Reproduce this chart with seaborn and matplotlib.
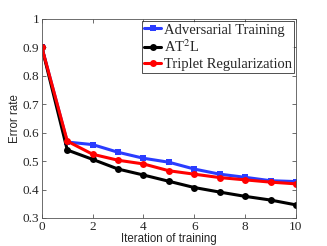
import matplotlib
matplotlib.use("Agg")
import matplotlib.pyplot as plt
import seaborn as sns
import pandas as pd

# values
iterations = [0, 1, 2, 3, 4, 5, 6, 7, 8, 9, 10]
adversarial = [0.90, 0.567, 0.558, 0.531, 0.510, 0.496, 0.472, 0.454, 0.443, 0.431, 0.428]
at2l = [0.90, 0.539, 0.506, 0.472, 0.451, 0.429, 0.407, 0.391, 0.376, 0.363, 0.346]
triplet = [0.90, 0.570, 0.524, 0.503, 0.490, 0.466, 0.454, 0.442, 0.434, 0.426, 0.420]
method_names = ["Adversarial Training", "AT$^2$L", "Triplet Regularization"]

df = pd.concat([
    pd.DataFrame({"iter": iterations, "err": adversarial, "method": method_names[0]}),
    pd.DataFrame({"iter": iterations, "err": at2l, "method": method_names[1]}),
    pd.DataFrame({"iter": iterations, "err": triplet, "method": method_names[2]}),
], ignore_index=True)

sns.set_style("ticks")
plt.rcParams["font.family"] = ["Liberation Serif", "DejaVu Serif"]
plt.rcParams["mathtext.fontset"] = "stix"

fig = plt.figure(figsize=(3.27, 2.46), dpi=100)
ax = fig.add_axes([0.128, 0.114, 0.777, 0.809])

palette = {method_names[0]: "#2a3cff", method_names[1]: "black", method_names[2]: "red"}
markers = {method_names[0]: "s", method_names[1]: "o", method_names[2]: "o"}
sns.lineplot(data=df, x="iter", y="err", hue="method", style="method",
             palette=palette, markers=markers, dashes=False,
             linewidth=2.2, markersize=5, markeredgewidth=0, ax=ax)

ax.set_xlim(0, 10)
ax.set_ylim(0.3, 1.0)
ax.set_xticks([0, 2, 4, 6, 8, 10])
ax.set_yticks([0.3, 0.4, 0.5, 0.6, 0.7, 0.8, 0.9, 1.0])
ax.set_yticklabels(["0.3", "0.4", "0.5", "0.6", "0.7", "0.8", "0.9", "1"])
ax.tick_params(direction="in", top=True, right=True, labelsize=9.5, length=3,
               width=0.6, color="#555555", pad=2)
for s in ax.spines.values():
    s.set_linewidth(0.6)
    s.set_color("#555555")

ax.set_xlabel("Iteration of training", family="Liberation Sans", fontsize=8.3, labelpad=0)
ax.set_ylabel("Error rate", family="Liberation Sans", fontsize=8.3, labelpad=1)

leg = ax.legend(loc="upper right", fontsize=10.5, frameon=True, fancybox=False,
                handlelength=1.2, handletextpad=0.15, borderpad=0.15,
                labelspacing=0.15, borderaxespad=0.15)
leg.get_frame().set_edgecolor("black")
leg.get_frame().set_linewidth(0.6)

fig.savefig("out.png", dpi=100)
